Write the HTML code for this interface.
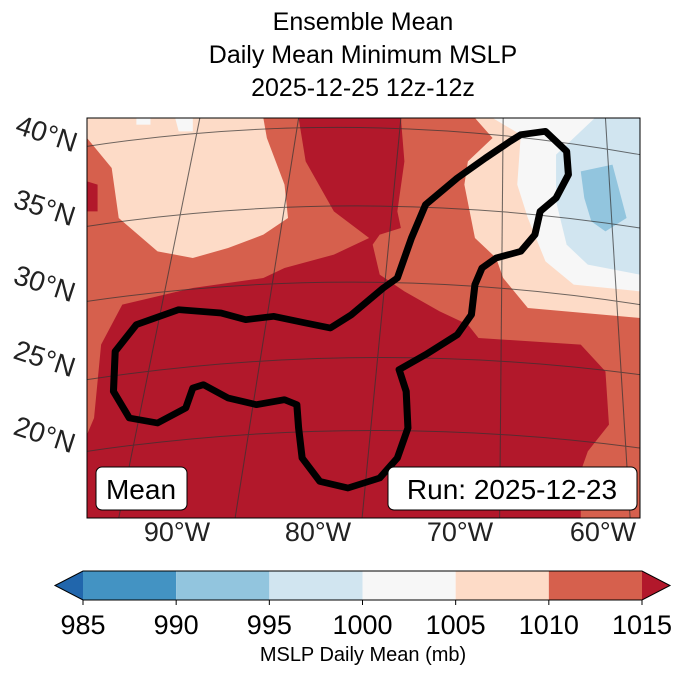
<!DOCTYPE html>
<html><head><meta charset="utf-8"><style>
body{margin:0;background:#fff;width:688px;height:674px;overflow:hidden;font-family:"Liberation Sans","DejaVu Sans",sans-serif}
</style></head><body>
<svg id="root" width="688" height="674" xmlns="http://www.w3.org/2000/svg">
<g font-size="25" text-anchor="middle" fill="#000">
<text x="363" y="30">Ensemble Mean</text>
<text x="363" y="63">Daily Mean Minimum MSLP</text>
<text x="363" y="96">2025-12-25 12z-12z</text>
</g>
<svg x="87" y="118" width="553" height="400" viewBox="0 0 1568 1200" preserveAspectRatio="none">
<rect width="1568" height="1200" fill="#d6604d"/>
<polygon fill="#fddbc7" points="0,0 500,0 510,60 560,200 570,300 500,350 400,390 300,420 200,400 90,300 70,150 0,60"/>
<polygon fill="#f7f7f7" points="140,0 180,0 180,20 140,20"/>
<polygon fill="#f7f7f7" points="250,0 300,0 300,40 260,40"/>
<polygon fill="#b2182b" points="0,190 30,200 30,280 0,280"/>
<polygon fill="#b2182b" points="600,0 890,0 900,130 880,280 890,330 830,350 810,380 830,470 900,520 1000,580 1080,620 1110,660 1400,680 1470,760 1480,920 1420,1000 1400,1060 1400,1200 100,1200 0,1200 0,950 20,900 40,680 100,560 300,510 500,480 560,450 700,410 800,360 700,280 620,130"/>
<polygon fill="#fddbc7" points="1100,0 1568,0 1568,600 1250,570 1180,480 1160,420 1100,360 1070,200 1080,130 1150,60"/>
<polygon fill="#f7f7f7" points="1150,0 1568,0 1568,520 1380,500 1300,430 1250,300 1220,200 1230,50"/>
<polygon fill="#d1e5f0" points="1330,110 1380,60 1440,0 1568,0 1568,470 1420,440 1360,380 1330,250"/>
<polygon fill="#92c5de" points="1400,160 1490,140 1530,300 1470,340 1430,310 1410,240"/>
<g stroke="#333" stroke-width="3" fill="none" opacity="0.7">
<path d="M0,85 Q780,-40 1568,110"/><path d="M0,325 Q780,200 1568,330"/><path d="M0,550 Q780,430 1568,560"/><path d="M0,785 Q780,660 1568,770"/><path d="M0,1000 Q780,880 1568,990"/>
<path d="M320,0 L90,1200"/><path d="M600,0 L420,1200"/><path d="M890,0 L780,1200"/><path d="M1180,0 L1170,1200"/><path d="M1470,0 L1540,1200"/>
</g>
<path fill="none" stroke="#000" stroke-width="20" stroke-linejoin="round" d="M1230,50 L1300,40 L1360,100 L1365,170 L1330,240 L1285,280 L1270,350 L1230,400 L1160,420 L1120,450 L1100,500 L1090,590 L1050,650 L960,710 L885,755 L905,820 L910,930 L880,1020 L830,1080 L740,1110 L660,1090 L610,1020 L600,930 L595,860 L560,845 L480,860 L400,840 L330,800 L300,810 L280,870 L200,915 L120,900 L75,820 L80,700 L140,620 L260,575 L380,585 L450,605 L530,595 L620,615 L690,630 L750,590 L840,510 L880,480 L920,360 L960,260 L1050,180 L1130,120 L1200,70 Z"/>
</svg>
<rect x="87" y="118" width="553" height="400" fill="none" stroke="#000" stroke-width="1"/>
<g>
<rect x="96" y="467" width="91" height="43" rx="6" fill="#fff" stroke="#000"/>
<text x="141" y="499" font-size="28" text-anchor="middle">Mean</text></g>
<g>
<rect x="388" y="467" width="249" height="43" rx="6" fill="#fff" stroke="#000"/>
<text x="512" y="499" font-size="28" text-anchor="middle">Run: 2025-12-23</text></g>
<g font-size="28" fill="#222">
<text transform="translate(14,133) rotate(18)">40°N</text>
<text transform="translate(12,207) rotate(18)">35°N</text>
<text transform="translate(12,283) rotate(18)">30°N</text>
<text transform="translate(12,358) rotate(18)">25°N</text>
<text transform="translate(12,434) rotate(18)">20°N</text>
</g>
<g font-size="27" text-anchor="middle" fill="#222">
<text x="177" y="541">90°W</text><text x="318" y="541">80°W</text><text x="460" y="541">70°W</text><text x="603" y="541">60°W</text>
</g>
<g id="cbar"></g>
<text x="363" y="661" font-size="20" text-anchor="middle">MSLP Daily Mean (mb)</text>
</svg>
<script>
const levels=[985,990,995,1000,1005,1010,1015];
const colors=["#4393c3","#92c5de","#d1e5f0","#f7f7f7","#fddbc7","#d6604d"];
const underColor="#2166ac", overColor="#b2182b";
const NS="http://www.w3.org/2000/svg";
const cb=document.getElementById('cbar');
const x0=83,x1=642,y0=571,y1=600;
const xs=v=>x0+(v-levels[0])/(levels[levels.length-1]-levels[0])*(x1-x0);
function mk(t,a){const e=document.createElementNS(NS,t);for(const k in a)e.setAttribute(k,a[k]);cb.appendChild(e);return e;}
colors.forEach((c,i)=>{
 const r=mk('rect',{x:xs(levels[i]),y:y0,width:xs(levels[i+1])-xs(levels[i]),height:y1-y0,fill:c});
 
 
});
const lt=mk('polygon',{points:`${x0},${y0} ${x0},${y1} 55,${(y0+y1)/2}`,fill:underColor});


const rt=mk('polygon',{points:`${x1},${y0} ${x1},${y1} 670,${(y0+y1)/2}`,fill:overColor});


const ol=mk('polygon',{points:`55,${(y0+y1)/2} ${x0},${y0} ${x1},${y0} 670,${(y0+y1)/2} ${x1},${y1} ${x0},${y1}`,fill:'none',stroke:'#000','stroke-width':1});


levels.forEach(v=>{
 const t=mk('line',{x1:xs(v),x2:xs(v),y1:y1,y2:y1+5,stroke:'#000'});
 
 
 const l=mk('text',{x:xs(v),y:634,'font-size':27,'text-anchor':'middle'});
 l.textContent=v;
 
 
});
</script>
</body></html>
